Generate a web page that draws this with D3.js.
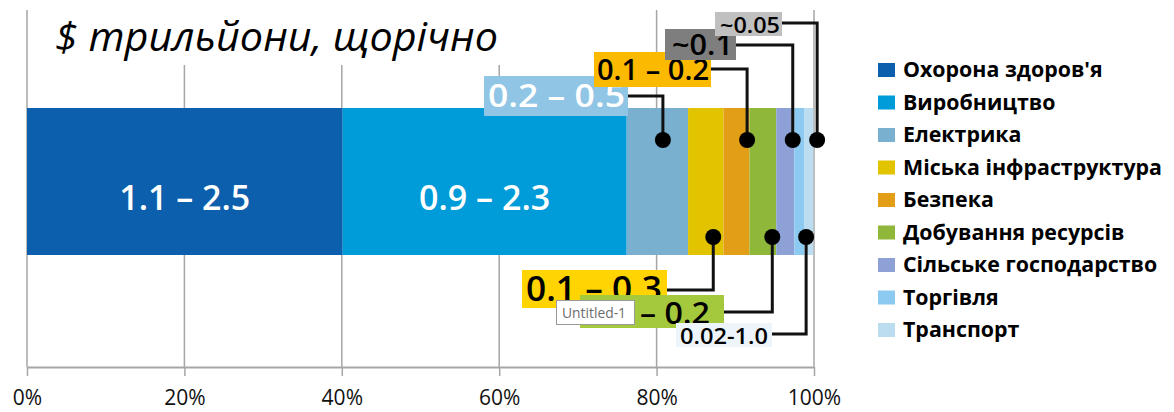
<!DOCTYPE html>
<html>
<head>
<meta charset="utf-8">
<script src="https://cdn.jsdelivr.net/npm/d3@7"></script>
<style>
  html, body { margin: 0; padding: 0; background: #fff; }
  svg { display: block; }
</style>
</head>
<body>
<svg id="chart" width="1174" height="412"></svg>
<script>
// ---------------- data ----------------
const categories = ["Охорона здоров'я", "Виробництво", "Електрика", "Міська інфраструктура",
  "Безпека", "Добування ресурсів", "Сільське господарство", "Торгівля", "Транспорт"];
const shares = [40.1, 36.1, 7.8, 4.5, 3.3, 3.4, 2.3, 1.3, 1.1];   // % of bar width
const valueLabels = ["1.1 – 2.5", "0.9 – 2.3", "0.2 – 0.5", "0.1 – 0.3", "0.1 – 0.2",
  "0.1 – 0.2", "~0.1", "~0.05", "0.02-1.0"];
const tickValues = [0, 20, 40, 60, 80, 100];
const tickLabels = ["0%", "20%", "40%", "60%", "80%", "100%"];
const titleText = "$ трильйони, щорічно";

// ---------------- styles / layout ----------------
const colors = ["#0b5fad", "#009bd9", "#79b0d0", "#e2c300", "#e29e17", "#8fb83a", "#8ea1d6", "#8dcaf2", "#bcdcf0"];

// callouts: index into categories, box, text placement, elbow (as % on x scale), side
const callouts = [
  {i: 2, box: [484, 76, 628, 116], fill: "#90c5e5", color: "#fff", tx: 488, tb: 107, tl: 137, fs: 33, ly: 96, at: 80.8, side: "top"},
  {i: 4, box: [594, 52, 711, 87],  fill: "#fbb900", color: "#000", tx: 597, tb: 80, tl: 112, fs: 29, ly: 69, at: 91.5, side: "top"},
  {i: 6, box: [665, 29, 736, 60],  fill: "#7e7e7e", color: "#000", tx: 672, tb: 55, tl: 61, fs: 28, ly: 45, at: 97.3, side: "top"},
  {i: 7, box: [715, 12, 782, 36],  fill: "#c0c0c0", color: "#000", tx: 720, tb: 33, tl: 60, fs: 22, ly: 23, at: 100.4, side: "top"},
  {i: 3, box: [522, 270, 667, 308], fill: "#ffd400", color: "#000", tx: 526, tb: 301, tl: 136, fs: 35, ly: 290, at: 87.2, side: "bottom"},
  {i: 5, box: [580, 295, 724, 328], fill: "#a5c93d", color: "#000", tx: 586, tb: 324, tl: 124, fs: 30, ly: 312, at: 94.7, side: "bottom"},
  {i: 8, box: [676, 323, 772, 347], fill: "#edf5fb", color: "#000", tx: 680, tb: 344, tl: 88, fs: 21, ly: 334, at: 99.0, side: "bottom"}
];

const svg = d3.select("#chart");
const x = d3.scaleLinear().domain([0, 100]).range([27, 814]);
const y = d3.scaleBand().domain(["all"]).range([108, 255]).padding(0);
const axisY = 367;

// gridlines
svg.append("g").selectAll("line").data(tickValues).join("line")
  .attr("x1", d => x(d)).attr("x2", d => x(d))
  .attr("y1", 10).attr("y2", axisY)
  .attr("stroke", "#a6a6a6").attr("stroke-width", 1.5);

// title with white backing (hides gridline tops)
svg.append("rect").attr("x", 36).attr("y", 0).attr("width", 560).attr("height", 65).attr("fill", "#fff");
svg.append("text").attr("x", 55).attr("y", 51)
  .attr("font-family", "'Open Sans', sans-serif").attr("font-style", "italic")
  .attr("font-size", 40).attr("fill", "#000")
  .attr("textLength", 443).attr("lengthAdjust", "spacingAndGlyphs")
  .text(titleText);

// axis
const axis = d3.axisBottom(x).tickValues(tickValues)
  .tickFormat((d, i) => tickLabels[i]).tickSize(9).tickSizeOuter(0);
const ag = svg.append("g").attr("transform", `translate(0,${axisY})`).call(axis);
ag.select(".domain").attr("stroke", "#a6a6a6").attr("stroke-width", 2);
ag.selectAll(".tick line").attr("stroke", "#a6a6a6").attr("stroke-width", 1.5);
ag.selectAll(".tick text").attr("y", 38).attr("dy", 0)
  .attr("font-family", "'Open Sans', sans-serif").attr("font-size", 21).attr("fill", "#111");

// stacked bar
const row = {key: "all"};
categories.forEach((c, i) => row[c] = shares[i]);
const stacked = d3.stack().keys(categories)([row]);
svg.append("g").selectAll("rect").data(stacked).join("rect")
  .attr("x", d => x(d[0][0]))
  .attr("width", d => x(d[0][1]) - x(d[0][0]))
  .attr("y", y("all")).attr("height", y.bandwidth())
  .attr("fill", (d, i) => colors[i]);

// in-bar labels
svg.append("g").selectAll("text").data(stacked.slice(0, 2)).join("text")
  .attr("x", d => (x(d[0][0]) + x(d[0][1])) / 2)
  .attr("y", 210)
  .attr("text-anchor", "middle")
  .attr("font-family", "'Open Sans', sans-serif").attr("font-size", 34).attr("font-weight", 600)
  .attr("fill", "#fff")
  .text((d, i) => valueLabels[i]);

// callouts
const cg = svg.append("g");
callouts.forEach(c => {
  const dotY = c.side === "top" ? 140 : 237;
  const ex = x(c.at);
  cg.append("path")
    .attr("d", `M${c.box[2]},${c.ly}H${ex}V${dotY}`)
    .attr("fill", "none").attr("stroke", "#111").attr("stroke-width", 3);
  cg.append("circle").attr("cx", ex).attr("cy", dotY).attr("r", 8).attr("fill", "#000");
});
callouts.forEach(c => {
  cg.append("rect").attr("x", c.box[0]).attr("y", c.box[1])
    .attr("width", c.box[2] - c.box[0]).attr("height", c.box[3] - c.box[1])
    .attr("fill", c.fill);
  cg.append("text").attr("x", c.tx).attr("y", c.tb)
    .attr("font-family", "'Open Sans', sans-serif").attr("font-size", c.fs)
    .attr("font-weight", 600)
    .attr("fill", c.color)
    .attr("textLength", c.tl).attr("lengthAdjust", "spacingAndGlyphs")
    .text(valueLabels[c.i]);
});

// stray tooltip box in the source image
const tip = svg.append("g");
tip.append("rect").attr("x", 556.5).attr("y", 300.5).attr("width", 78).attr("height", 24)
  .attr("fill", "#fff").attr("stroke", "#9a9a9a");
tip.append("text").attr("x", 562).attr("y", 318)
  .attr("font-family", "'Open Sans', sans-serif").attr("font-size", 14).attr("fill", "#6d6d6d")
  .attr("textLength", 64).attr("lengthAdjust", "spacingAndGlyphs")
  .text("Untitled-1");

// legend
const lg = svg.append("g");
const legY = i => 70 + 32.5 * i;
lg.selectAll("rect").data(categories).join("rect")
  .attr("x", 878).attr("y", (d, i) => legY(i) - 7)
  .attr("width", 17).attr("height", 14)
  .attr("fill", (d, i) => colors[i]);
const lt = lg.selectAll("text").data(categories).join("text")
  .attr("x", 903).attr("y", (d, i) => legY(i) + 7)
  .attr("font-family", "'Open Sans', sans-serif").attr("font-weight", 700)
  .attr("font-size", 20).attr("fill", "#000")
  .text(d => d);
// scale legend font so the longest label matches the reference width
const longest = lt.filter(d => d === "Міська інфраструктура").node().getComputedTextLength();
const fs = 20 * 259 / longest;
lt.attr("font-size", fs);
</script>
</body>
</html>
